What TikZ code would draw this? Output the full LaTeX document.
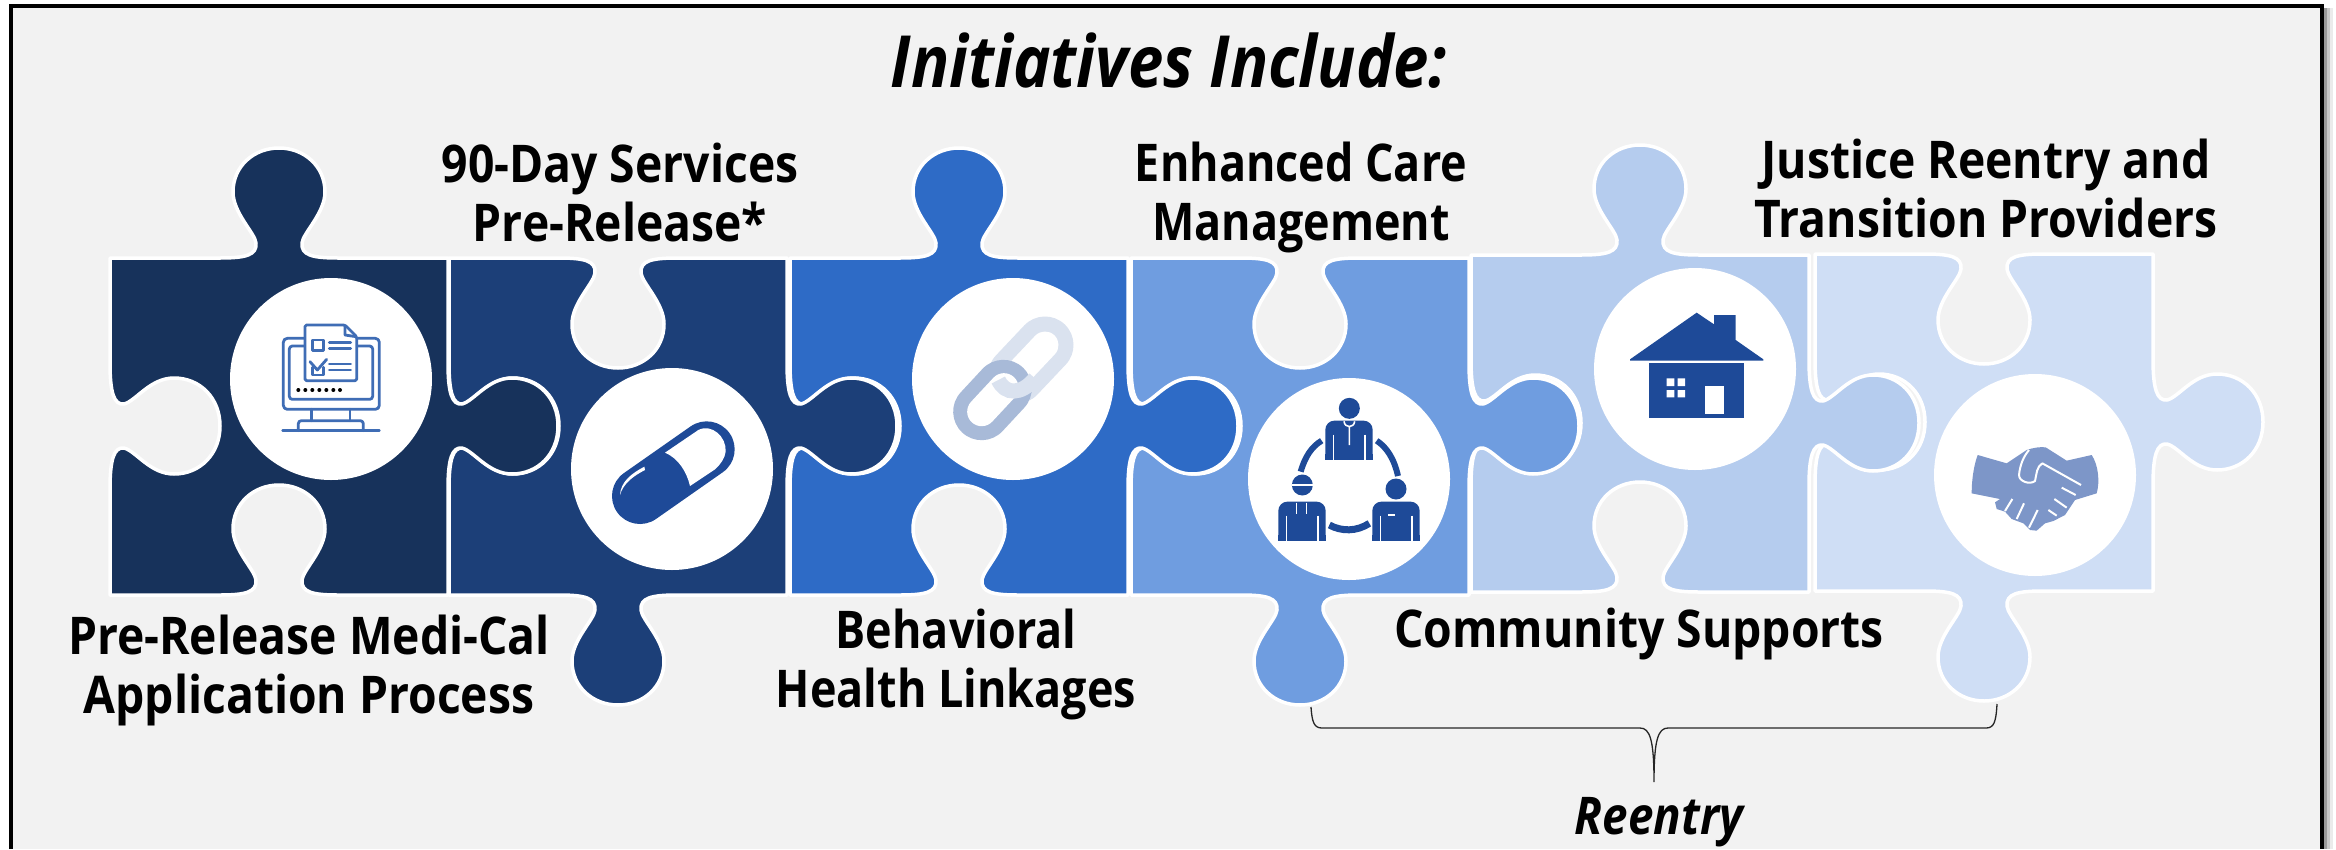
\documentclass[tikz,border=0pt]{standalone}
\usepackage{fontspec}
\setmainfont{Open Sans}
\newfontfamily\lblfont{Open Sans}[BoldFont={Open Sans Bold},BoldItalicFont={Open Sans Bold Italic}]
\definecolor{bgc}{HTML}{F2F2F2}
\definecolor{pa}{HTML}{17325B}
\definecolor{pb}{HTML}{1C3F78}
\definecolor{pc}{HTML}{2E6BC6}
\definecolor{pd}{HTML}{6F9DE0}
\definecolor{pe}{HTML}{B5CCEE}
\definecolor{pf}{HTML}{CFDEF5}
\definecolor{ink}{HTML}{1E4A98}
\definecolor{thin}{HTML}{3F6DB5}
\definecolor{shake}{HTML}{7D96C8}
\definecolor{linkl}{HTML}{DAE2EF}
\definecolor{linkd}{HTML}{A8BAD8}
\newcommand\rightTab{-- (338,105) .. controls (338,135) and (342,147) .. (352,146) .. controls (364,143) and (378,120) .. (402,120) .. controls (428,120) and (448,140) .. (448,168) .. controls (448,196) and (428,216) .. (402,216) .. controls (378,216) and (364,193) .. (352,190) .. controls (342,189) and (338,201) .. (338,231) -- (338,337) }
\newcommand\leftNotch{-- (0,231) .. controls (0,201) and (4,189) .. (14,190) .. controls (26,193) and (40,216) .. (64,216) .. controls (90,216) and (110,196) .. (110,168) .. controls (110,140) and (90,120) .. (64,120) .. controls (40,120) and (26,143) .. (14,146) .. controls (4,147) and (0,135) .. (0,105) -- cycle}
\newcommand\puzzleA[3]{\begin{scope}[shift={(#1,#2)}]
\filldraw[piece,fill=#3] (0,0) -- (110,0) .. controls (136,0) and (147,-3) .. (146,-15) .. controls (145,-25) and (123,-45) .. (123,-66) .. controls (123,-92) and (144,-110) .. (169,-110) .. controls (194,-110) and (215,-92) .. (215,-66) .. controls (215,-45) and (193,-25) .. (192,-15) .. controls (191,-3) and (202,0) .. (228,0) -- (338,0)
\rightTab
-- (228,337) .. controls (202,337) and (191,334) .. (192,322) .. controls (193,312) and (215,292) .. (215,271) .. controls (215,245) and (194,227) .. (169,227) .. controls (144,227) and (123,245) .. (123,271) .. controls (123,292) and (145,312) .. (146,322) .. controls (147,334) and (136,337) .. (110,337) -- (0,337)
\leftNotch;
\end{scope}}
\newcommand\puzzleB[3]{\begin{scope}[shift={(#1,#2)}]
\filldraw[piece,fill=#3] (0,0) -- (110,0) .. controls (136,0) and (147,3) .. (146,15) .. controls (145,25) and (123,45) .. (123,66) .. controls (123,92) and (144,110) .. (169,110) .. controls (194,110) and (215,92) .. (215,66) .. controls (215,45) and (193,25) .. (192,15) .. controls (191,3) and (202,0) .. (228,0) -- (338,0)
\rightTab
-- (228,337) .. controls (202,337) and (191,340) .. (192,352) .. controls (193,362) and (215,382) .. (215,403) .. controls (215,429) and (194,447) .. (169,447) .. controls (144,447) and (123,429) .. (123,403) .. controls (123,382) and (145,362) .. (146,352) .. controls (147,340) and (136,337) .. (110,337) -- (0,337)
\leftNotch;
\end{scope}}
\newcommand\personbody[2]{\begin{scope}[shift={(#1,#2)}]
\fill[ink,rounded corners=9pt] (-71,125) -- (-71,0) -- (71,0) -- (71,125) -- cycle;
\fill[ink] (-71,118) rectangle (71,100);
\fill[white] (-75,118) rectangle (75,130);
\draw[white,line width=1.7pt] (-47,42) -- (-47,118) (47,42) -- (47,118);
\end{scope}}
\tikzset{
 piece/.style={draw=white,line width=3.5pt,line join=round},
 disc/.style={circle,fill=white,minimum size=202pt,inner sep=0pt},
 lbl/.style={font=\lblfont\bfseries\fontsize{52}{59}\selectfont,align=center,text=black,inner sep=0pt,xscale=0.89},
 zoomed/.style={x=0.33333pt,y=-0.33333pt},
 mono/.style={draw=thin,line width=2.8pt,line join=round,line cap=round},
 brace/.style={draw=black!85,line width=1.3pt}
}
\begin{document}
\begin{tikzpicture}[x=1pt,y=-1pt]
\useasboundingbox (0,0) rectangle (2336,849);
% frame with soft shadow
\fill[black!8] (2324,8) rectangle (2333,849);
\fill[black!22] (2324,8) rectangle (2330,849);
\fill[black!40] (2324,8) rectangle (2327,849);
\fill[bgc] (10,5) rectangle (2323,849);
\draw[black,line width=3.5pt,line join=miter] (11,849) -- (11,6) -- (2322,6) -- (2322,849);
\node[font=\lblfont\bfseries\itshape\fontsize{72}{76}\selectfont,inner sep=0pt,xscale=0.88] (title) at (1169,61) {Initiatives Include:};
% pieces, right to left so each tab lies over its neighbour
\puzzleB{1815}{254}{pf}
\puzzleA{1471}{255}{pe}
\puzzleB{1131}{258}{pd}
\puzzleA{790}{258}{pc}
\puzzleB{449}{258}{pb}
\puzzleA{110}{258}{pa}
% discs
\node[disc] (d1) at (331,379) {};
\node[disc] (d2) at (672,469) {};
\node[disc] (d3) at (1013,379) {};
\node[disc] (d4) at (1349,479) {};
\node[disc] (d5) at (1695,369) {};
\node[disc] (d6) at (2035,475) {};
% monitor icon
\begin{scope}[shift={(260,310)},zoomed]
\draw[mono,rounded corners=4pt] (70,85) rectangle (358,298);
\draw[mono,rounded corners=3pt] (88,108) rectangle (338,268);
\filldraw[mono,fill=white,rounded corners=1.5pt] (135,45) -- (255,45) -- (290,80) -- (290,212) -- (135,212) -- cycle;
\draw[mono] (255,47) -- (255,75) -- (288,80);
\draw[mono] (157,90) rectangle (190,122);
\draw[mono] (208,98) -- (272,98) (208,115) -- (272,115) (208,162) -- (272,162) (208,180) -- (272,180);
\draw[mono] (150,155) -- (172,180) -- (200,148);
\draw[mono] (157,172) -- (157,195) -- (190,195) -- (190,172);
\foreach \i in {115,136,157,178,199,220,240} \fill[thin] (\i,240) circle (2pt);
\draw[mono] (155,298) -- (155,332) (270,298) -- (270,332);
\draw[mono,rounded corners=3pt] (115,362) -- (115,332) -- (310,332) -- (310,362);
\draw[mono] (68,362) -- (358,362);
\end{scope}
% capsule icon
\begin{scope}[shift={(590,390)},zoomed]
\draw[ink,line width=56pt,line cap=round] (150,318) -- (350,178);
\fill[white] (225,188) -- (325,120) .. controls (365,100) and (410,140) .. (407,185) .. controls (405,205) and (390,225) .. (375,238) -- (300,288) .. controls (290,245) and (265,205) .. (225,188) -- cycle;
\fill[white] (90,315) .. controls (92,275) and (125,250) .. (163,230) -- (165,240) .. controls (130,258) and (100,280) .. (90,315) -- cycle;
\end{scope}
% chain icon
\begin{scope}[shift={(930,300)},zoomed]
\draw[linkl,line width=57pt,line cap=round] (345,135) -- (260,225);
\draw[white,line width=27pt,line cap=round] (345,135) -- (260,225);
\draw[linkd,line width=57pt,line cap=round] (155,335) -- (220,265);
\draw[white,line width=29pt,line cap=round] (155,335) -- (222,263);
\draw[linkl,line width=15pt] (205,240) .. controls (225,285) and (275,285) .. (315,235);
\end{scope}
% people icon
\begin{scope}[shift={(1270,390)},zoomed]
\fill[ink] (238,55) circle (10.5pt);
\personbody{237}{92}
\draw[white,line width=1.6pt] (222,94) .. controls (224,115) and (252,115) .. (254,94) (238,112) -- (238,165);
\fill[ink] (97,285) circle (10.5pt);
\draw[white,line width=1.5pt] (66,285) -- (128,285);
\personbody{96}{335}
\draw[white,line width=1.6pt] (80,338) -- (80,372) (110,338) -- (110,372);
\fill[ink] (378,297) circle (10.5pt);
\personbody{378}{335}
\draw[white,line width=1.3pt] (355,375) -- (375,375);
\draw[ink,line width=6pt] (92,245) .. controls (105,200) and (125,170) .. (155,152);
\draw[ink,line width=6pt] (320,152) .. controls (350,172) and (372,205) .. (384,258);
\draw[ink,line width=7pt] (178,405) .. controls (215,425) and (260,425) .. (298,400);
\end{scope}
% house icon
\begin{scope}[shift={(1615,290)},zoomed]
\fill[ink] (45,212) -- (45,208) -- (245,68) -- (297,103) -- (297,75) -- (362,75) -- (362,150) -- (445,208) -- (445,212) -- cycle;
\fill[ink] (103,220) rectangle (388,385);
\fill[white] (155,265) rectangle (178,288) (188,265) rectangle (210,288) (155,300) rectangle (178,322) (188,300) rectangle (210,322);
\fill[white] (270,287) rectangle (327,373);
\end{scope}
% handshake icon
\begin{scope}[shift={(1955,395)},zoomed]
\fill[shake,line join=round] (68,180) -- (155,205) -- (215,165) .. controls (235,158) and (255,155) .. (272,157) -- (335,197) -- (410,180) .. controls (430,210) and (435,260) .. (425,295) -- (360,315) -- (330,360) -- (295,378) -- (270,385) -- (245,407) -- (225,405) -- (205,385) -- (170,372) -- (150,350) -- (125,342) -- (120,322) -- (135,312) -- (50,295) .. controls (50,260) and (55,215) .. (68,180) -- cycle;
\draw[white,line width=2pt,line join=round] (222,165) .. controls (205,185) and (195,210) .. (192,240) .. controls (192,260) and (225,270) .. (240,258) .. controls (245,235) and (245,215) .. (262,205) -- (378,270);
\draw[white,line width=2pt] (320,278) -- (362,300) (298,312) -- (335,338) (280,345) -- (305,362) (150,348) -- (172,312) (185,372) -- (207,325) (222,398) -- (248,345);
\end{scope}
% labels
\node[lbl] (l2) at (620,192.5) {90-Day Services\\Pre-Release*};
\node[lbl] (l1) at (309,670) {Pre-Release Medi-Cal\\Application Process};
\node[lbl,xscale=0.97] (l3) at (956,664) {Behavioral\\Health Linkages};
\node[lbl,xscale=0.97] (l4) at (1301,197) {Enhanced Care\\Management};
\node[lbl] (l5) at (1639,634) {Community Supports};
\node[lbl] (l6) at (1986,188) {Justice Reentry and\\Transition Providers};
\node[font=\lblfont\bfseries\itshape\fontsize{52}{56}\selectfont,inner sep=0pt,xscale=0.88] (re) at (1659,822) {Reentry};
% brace
\coordinate (bl) at (1311,707);
\coordinate (br) at (1997,704);
\coordinate (bt) at (1654,782);
\draw[brace] (bl) .. controls (1312,722) and (1314,728) .. (1322,728) -- (1640,728) .. controls (1650,728) and (1654,740) .. (bt) .. controls (1654,740) and (1658,728) .. (1668,728) -- (1986,728) .. controls (1994,728) and (1996,722) .. (br);
\end{tikzpicture}
\end{document}
